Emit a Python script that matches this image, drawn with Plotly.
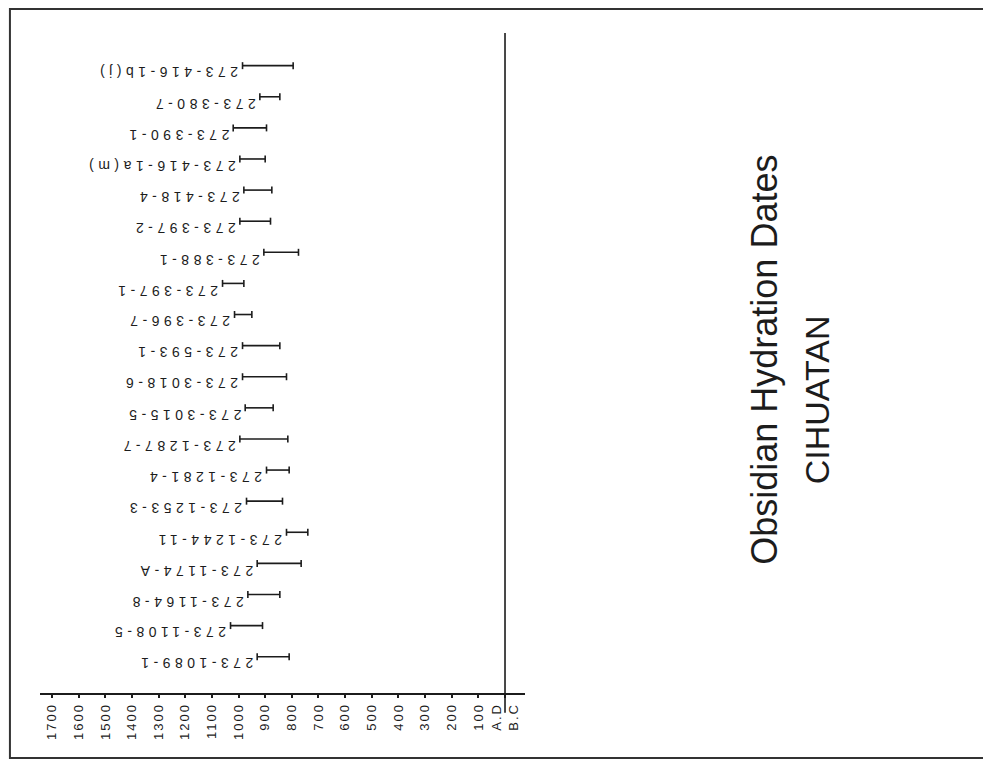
import plotly.graph_objects as go

# Samples listed top to bottom as in the chart
labels = ["273-416-1b(j)", "273-380-7", "273-390-1", "273-416-1a(m)", "273-418-4",
          "273-397-2", "273-388-1", "273-397-1", "273-396-7", "273-593-1",
          "273-3018-6", "273-3015-5", "273-1287-7", "273-1281-4", "273-1253-3",
          "273-1244-11", "273-1174-A", "273-1164-8", "273-1108-5", "273-1089-1"]
# Earlier (older) end of each date range, years A.D.
early = [985, 920, 1020, 995, 980, 995, 905, 1060, 1015, 985,
         985, 975, 995, 895, 970, 820, 930, 965, 1030, 930]
# Later end of each date range, years A.D.
late = [795, 845, 895, 900, 875, 880, 775, 980, 950, 845,
        820, 870, 815, 810, 835, 740, 765, 845, 910, 810]

tick_vals = [0, 100, 200, 300, 400, 500, 600, 700, 800, 900,
             1000, 1100, 1200, 1300, 1400, 1500, 1600, 1700]
tick_text = ["A.D<br>B.C", "100", "200", "300", "400", "500", "600", "700", "800", "900",
             "1000", "1100", "1200", "1300", "1400", "1500", "1600", "1700"]

title_main = "Obsidian Hydration Dates"
title_site = "CIHUATAN"

n = len(labels)
ypos = [n - 1 - i for i in range(n)]

xs, ys = [], []
for e, l, y in zip(early, late, ypos):
    xs += [e, l, None]
    ys += [y, y, None]

ink = "#1c1c1c"
fig = go.Figure()
fig.add_trace(go.Scatter(
    x=xs, y=ys, mode="lines+markers",
    line=dict(color=ink, width=1.6),
    marker=dict(symbol="line-ns", size=5, line=dict(color=ink, width=1.6)),
    hoverinfo="skip", showlegend=False,
))

for lab, e, y in zip(labels, early, ypos):
    fig.add_annotation(x=e, y=y, xref="x", yref="y",
                       text='<span style="letter-spacing:4.5px">' + lab + '</span>',
                       showarrow=False, textangle=180, xanchor="right", yanchor="middle",
                       xshift=-2, yshift=-7,
                       font=dict(family="Liberation Sans, Arial", size=14, color=ink))

# zero (A.D./B.C.) line
fig.add_shape(type="line", xref="x", yref="paper", x0=0, x1=0, y0=-0.03, y1=1,
              line=dict(color=ink, width=1.6))
# page frame
fig.add_shape(type="rect", xref="paper", yref="paper",
              x0=-0.062, x1=1.952, y0=-0.0985, y1=1.0364,
              line=dict(color="#333333", width=2))

fig.add_annotation(x=1.495, y=0.505, xref="paper", yref="paper", text=title_main,
                   showarrow=False, textangle=-90, xanchor="center", yanchor="middle",
                   font=dict(family="Liberation Sans, Arial", size=36, color=ink))
fig.add_annotation(x=1.602, y=0.445, xref="paper", yref="paper", text=title_site,
                   showarrow=False, textangle=-90, xanchor="center", yanchor="middle",
                   font=dict(family="Liberation Sans, Arial", size=34, color=ink))

fig.update_layout(
    width=983, height=754,
    margin=dict(l=32, r=466, t=25, b=69),
    paper_bgcolor="white", plot_bgcolor="white",
    xaxis=dict(range=[1745, -75], tickvals=tick_vals,
               ticktext=['<span style="letter-spacing:2px">' + t + '</span>' for t in tick_text],
               tickangle=-90, ticks="outside", ticklen=3, tickwidth=2, tickcolor=ink,
               showline=True, linecolor=ink, linewidth=1.6, showgrid=False, zeroline=False,
               tickfont=dict(family="Liberation Sans, Arial", size=13, color=ink),
               fixedrange=True),
    yaxis=dict(range=[-1.167, 20.05], visible=False, fixedrange=True),
)

fig.write_html("out.html")
